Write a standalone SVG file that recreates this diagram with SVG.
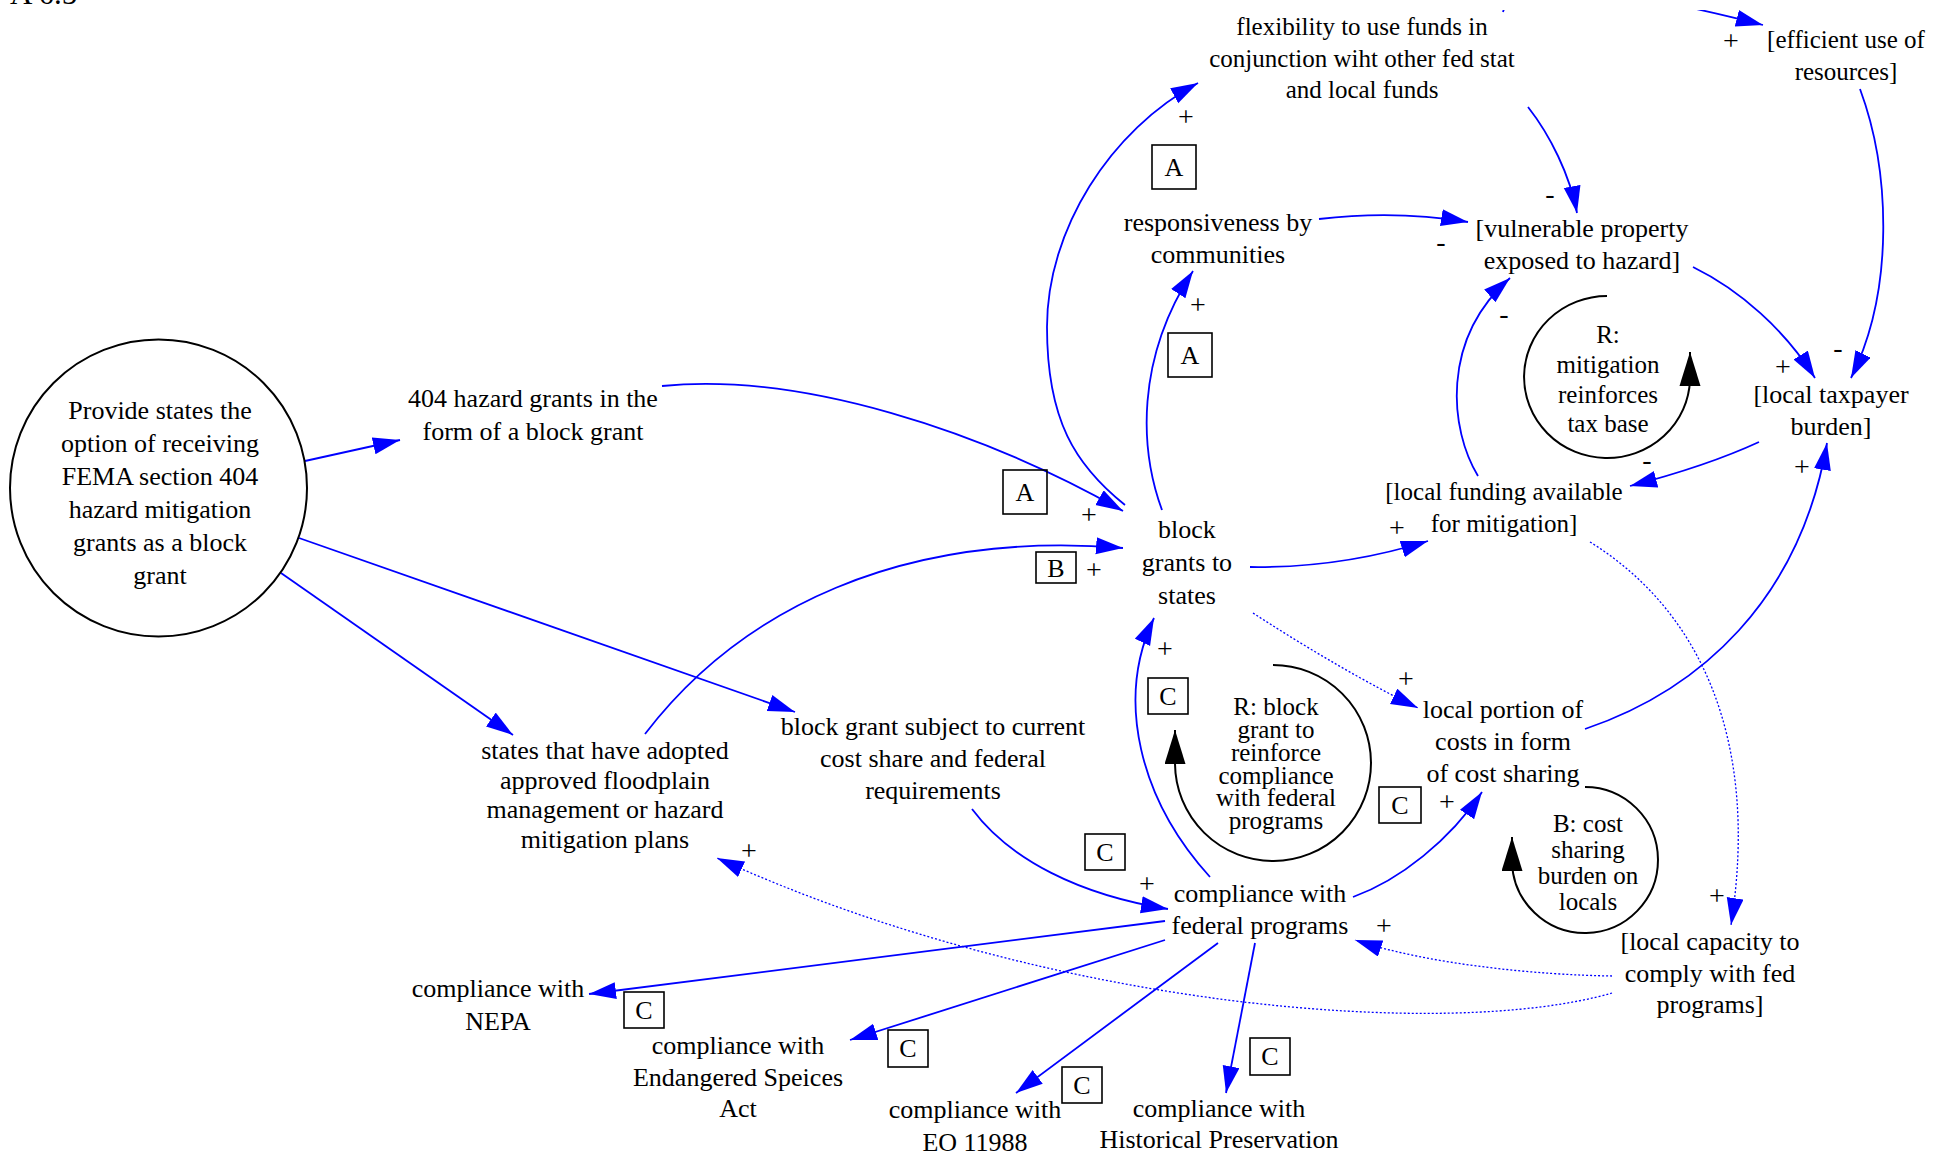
<svg xmlns="http://www.w3.org/2000/svg" width="1950" height="1159" viewBox="0 0 1950 1159">
<defs>
<style>
.t{font-family:"Liberation Serif","Times New Roman",serif;font-size:26px;text-anchor:middle;fill:#000}
.n{font-size:25px}
.lb{font-family:"Liberation Serif","Times New Roman",serif;font-size:25px;text-anchor:middle;fill:#000}
.s{font-family:"Liberation Serif","Times New Roman",serif;font-size:28px;text-anchor:middle;fill:#000}
.bx{fill:none;stroke:#000;stroke-width:1.6}
.bl{font-family:"Liberation Serif","Times New Roman",serif;font-size:26px;text-anchor:middle;fill:#000}
.e{fill:none;stroke:#0000ff;stroke-width:1.8;marker-end:url(#ab)}
.d{fill:none;stroke:#0000ff;stroke-width:1.3;stroke-dasharray:2 2;marker-end:url(#ab)}
.lp{fill:none;stroke:#000;stroke-width:2;marker-end:url(#ak)}
</style>
<marker id="ab" markerUnits="userSpaceOnUse" markerWidth="30" markerHeight="20" refX="27" refY="8.5" orient="auto" viewBox="0 0 30 20">
<path d="M0,0 L27,8.5 L0,17 z" fill="#0000ff"/>
</marker>
<marker id="ak" markerUnits="userSpaceOnUse" markerWidth="36" markerHeight="24" refX="34" refY="10.5" orient="auto" viewBox="0 0 36 24">
<path d="M0,0 L34,10.5 L0,21 z" fill="#000"/>
</marker>
<clipPath id="topclip"><rect x="0" y="10" width="1950" height="1149"/></clipPath>
</defs>
<rect width="1950" height="1159" fill="#fff"/>

<text x="10" y="4" style="font-family:'Liberation Serif',serif;font-size:31px;fill:#000">A 6.5</text>

<g id="connectors">
<path class="e" d="M305,461 L400,440"/>
<path class="e" d="M299,538 L795,712"/>
<path class="e" d="M281,573 L513,735"/>
<path class="e" d="M662,386 C800,372 980,430 1123,511"/>
<path class="e" d="M1125,505 C1075,465 1047,420 1047,327 C1047,230 1110,130 1198,83"/>
<path class="e" d="M1162,510 C1140,450 1135,360 1193,271"/>
<path class="e" d="M1319,219 C1370,213 1420,214 1468,222"/>
<path class="e" d="M1528,107 C1550,135 1570,175 1577,213"/>
<path class="e" clip-path="url(#topclip)" d="M1503,12 C1515,-30 1650,-4 1763,25"/>
<path class="e" d="M1860,89 C1890,170 1895,290 1851,378"/>
<path class="e" d="M1693,267 C1740,290 1785,330 1815,378"/>
<path class="e" d="M1759,442 C1720,460 1680,473 1630,486"/>
<path class="e" d="M1478,476 C1450,430 1440,340 1510,278"/>
<path class="e" d="M1250,567 C1320,568 1380,556 1428,541"/>
<path class="e" d="M1585,729 C1700,690 1800,600 1827,443"/>
<path class="d" d="M1253,613 C1310,650 1370,685 1418,708"/>
<path class="d" d="M1590,542 C1700,610 1760,740 1731,925"/>
<path class="e" d="M1210,877 C1140,800 1115,700 1154,618"/>
<path class="e" d="M1353,897 C1400,880 1450,840 1482,792"/>
<path class="e" d="M972,809 C1010,860 1080,895 1168,909"/>
<path class="e" d="M1165,921 L589,994"/>
<path class="e" d="M1165,940 L850,1040"/>
<path class="e" d="M1218,943 L1016,1093"/>
<path class="e" d="M1255,943 L1226,1093"/>
<path class="d" d="M1612,976 C1540,975 1430,965 1355,940"/>
<path class="d" d="M1612,993 C1450,1040 1050,1010 717,858"/>
<path class="e" d="M645,734 C740,610 900,530 1123,548"/>
</g>

<g id="polarity">
<text class="s" x="1186" y="126">+</text>
<text class="s" x="1198" y="314">+</text>
<text class="s" x="1089" y="524">+</text>
<text class="s" x="1094" y="579">+</text>
<text class="s" x="1165" y="658">+</text>
<text class="s" x="1550" y="203">-</text>
<text class="s" x="1441" y="251">-</text>
<text class="s" x="1504" y="323">-</text>
<text class="s" x="1783" y="376">+</text>
<text class="s" x="1838" y="357">-</text>
<text class="s" x="1731" y="50">+</text>
<text class="s" x="1647" y="469">-</text>
<text class="s" x="1802" y="476">+</text>
<text class="s" x="1397" y="537">+</text>
<text class="s" x="1406" y="688">+</text>
<text class="s" x="1447" y="811">+</text>
<text class="s" x="1147" y="893">+</text>
<text class="s" x="1384" y="935">+</text>
<text class="s" x="749" y="860">+</text>
<text class="s" x="1717" y="905">+</text>
</g>

<g id="tags">
<rect class="bx" x="1152" y="145" width="44" height="44"/><text class="bl" x="1174" y="176">A</text>
<rect class="bx" x="1168" y="333" width="44" height="44"/><text class="bl" x="1190" y="364">A</text>
<rect class="bx" x="1003" y="470" width="44" height="44"/><text class="bl" x="1025" y="501">A</text>
<rect class="bx" x="1036" y="552" width="40" height="31"/><text class="bl" x="1056" y="577">B</text>
<rect class="bx" x="1148" y="678" width="40" height="36"/><text class="bl" x="1168" y="705">C</text>
<rect class="bx" x="1379" y="787" width="42" height="36"/><text class="bl" x="1400" y="814">C</text>
<rect class="bx" x="1085" y="834" width="40" height="36"/><text class="bl" x="1105" y="861">C</text>
<rect class="bx" x="624" y="992" width="40" height="36"/><text class="bl" x="644" y="1019">C</text>
<rect class="bx" x="888" y="1030" width="40" height="37"/><text class="bl" x="908" y="1057">C</text>
<rect class="bx" x="1062" y="1067" width="40" height="36"/><text class="bl" x="1082" y="1094">C</text>
<rect class="bx" x="1250" y="1038" width="40" height="37"/><text class="bl" x="1270" y="1065">C</text>
</g>

<g id="loop_mitigation">
<path class="lp" d="M1607,296 A83,81 0 1 0 1690,380 L1690,352"/>
<text class="lb" x="1608" y="343">R:</text>
<text class="lb" x="1608" y="373">mitigation</text>
<text class="lb" x="1608" y="403">reinforces</text>
<text class="lb" x="1608" y="432">tax base</text>
</g>
<g id="loop_block">
<path class="lp" d="M1273,665 A98,98 0 1 1 1175,764 L1175,730"/>
<text class="lb" x="1276" y="715">R: block</text>
<text class="lb" x="1276" y="738">grant to</text>
<text class="lb" x="1276" y="761">reinforce</text>
<text class="lb" x="1276" y="784">compliance</text>
<text class="lb" x="1276" y="806">with federal</text>
<text class="lb" x="1276" y="829">programs</text>
</g>
<g id="loop_cost">
<path class="lp" d="M1585,787 A73,73 0 1 1 1512,862 L1512,837"/>
<text class="lb" x="1588" y="832">B: cost</text>
<text class="lb" x="1588" y="858">sharing</text>
<text class="lb" x="1588" y="884">burden on</text>
<text class="lb" x="1588" y="910">locals</text>
</g>

<g id="n_option">
<circle cx="158.5" cy="488" r="148.5" fill="none" stroke="#000" stroke-width="2"/>
<text class="t" x="160" y="419">Provide states the</text>
<text class="t" x="160" y="452">option of receiving</text>
<text class="t" x="160" y="485">FEMA section 404</text>
<text class="t" x="160" y="518">hazard mitigation</text>
<text class="t" x="160" y="551">grants as a block</text>
<text class="t" x="160" y="584">grant</text>
</g>
<g id="n_404">
<text class="t" x="533" y="407">404 hazard grants in the</text>
<text class="t" x="533" y="440">form of a block grant</text>
</g>
<g id="n_flex">
<text class="t n" x="1362" y="35">flexibility to use funds in</text>
<text class="t n" x="1362" y="67">conjunction wiht other fed stat</text>
<text class="t n" x="1362" y="98">and local funds</text>
</g>
<g id="n_efficient">
<text class="t n" x="1846" y="48">[efficient use of</text>
<text class="t n" x="1846" y="80">resources]</text>
</g>
<g id="n_responsiveness">
<text class="t" x="1218" y="231">responsiveness by</text>
<text class="t" x="1218" y="263">communities</text>
</g>
<g id="n_vulnerable">
<text class="t" x="1582" y="237">[vulnerable property</text>
<text class="t" x="1582" y="269">exposed to hazard]</text>
</g>
<g id="n_taxpayer">
<text class="t" x="1831" y="403">[local taxpayer</text>
<text class="t" x="1831" y="435">burden]</text>
</g>
<g id="n_funding">
<text class="t n" x="1504" y="500">[local funding available</text>
<text class="t n" x="1504" y="532">for mitigation]</text>
</g>
<g id="n_block">
<text class="t" x="1187" y="538">block</text>
<text class="t" x="1187" y="571">grants to</text>
<text class="t" x="1187" y="604">states</text>
</g>
<g id="n_states">
<text class="t" x="605" y="759">states that have adopted</text>
<text class="t" x="605" y="789">approved floodplain</text>
<text class="t" x="605" y="818">management or hazard</text>
<text class="t" x="605" y="848">mitigation plans</text>
</g>
<g id="n_subject">
<text class="t" x="933" y="735">block grant subject to current</text>
<text class="t" x="933" y="767">cost share and federal</text>
<text class="t" x="933" y="799">requirements</text>
</g>
<g id="n_compliance">
<text class="t" x="1260" y="902">compliance with</text>
<text class="t" x="1260" y="934">federal programs</text>
</g>
<g id="n_localportion">
<text class="t" x="1503" y="718">local portion of</text>
<text class="t" x="1503" y="750">costs in form</text>
<text class="t" x="1503" y="782">of cost sharing</text>
</g>
<g id="n_capacity">
<text class="t" x="1710" y="950">[local capacity to</text>
<text class="t" x="1710" y="982">comply with fed</text>
<text class="t" x="1710" y="1013">programs]</text>
</g>
<g id="n_nepa">
<text class="t" x="498" y="997">compliance with</text>
<text class="t" x="498" y="1030">NEPA</text>
</g>
<g id="n_esa">
<text class="t" x="738" y="1054">compliance with</text>
<text class="t" x="738" y="1086">Endangered Speices</text>
<text class="t" x="738" y="1117">Act</text>
</g>
<g id="n_eo">
<text class="t" x="975" y="1118">compliance with</text>
<text class="t" x="975" y="1151">EO 11988</text>
</g>
<g id="n_hist">
<text class="t" x="1219" y="1117">compliance with</text>
<text class="t" x="1219" y="1148">Historical Preservation</text>
</g>
</svg>
